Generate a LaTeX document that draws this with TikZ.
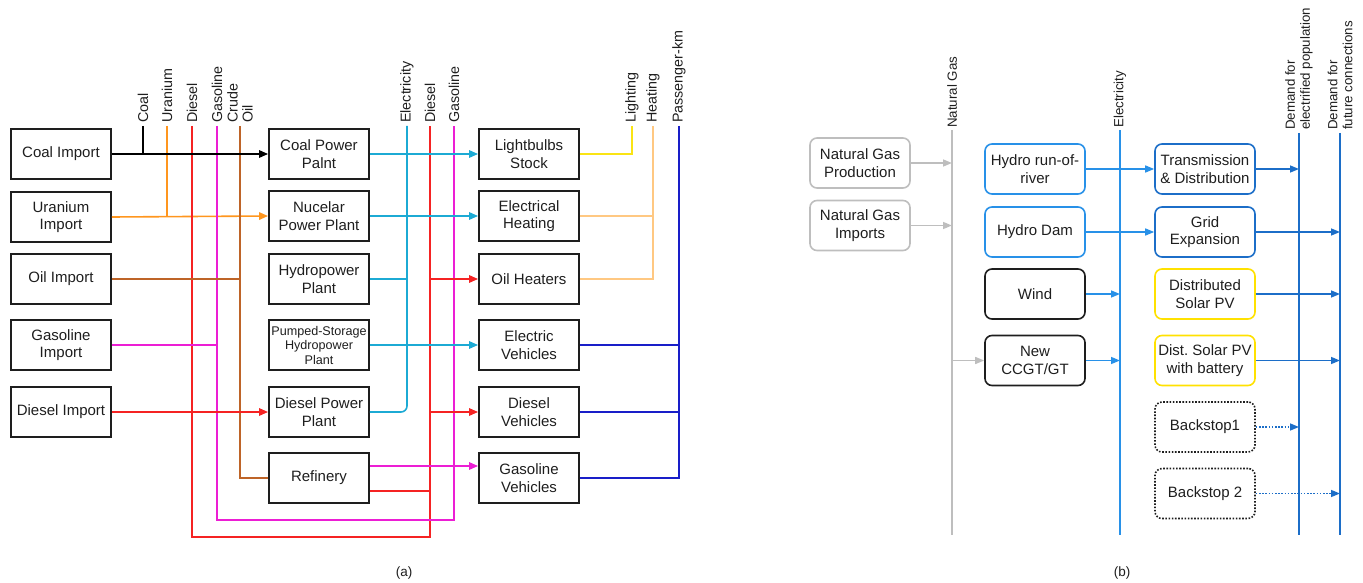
\documentclass[tikz,border=0pt]{standalone}
\usepackage{fontspec}
\setmainfont{Liberation Sans}
\usetikzlibrary{arrows.meta}
\frenchspacing
\definecolor{cyanE}{RGB}{28,170,212}
\definecolor{redD}{RGB}{245,35,35}
\definecolor{magG}{RGB}{236,30,212}
\definecolor{brownO}{RGB}{190,100,40}
\definecolor{orangeU}{RGB}{255,150,30}
\definecolor{yellowL}{RGB}{250,228,20}
\definecolor{orangeH}{RGB}{255,200,130}
\definecolor{blueP}{RGB}{25,30,200}
\definecolor{grayN}{RGB}{190,190,190}
\definecolor{blueE}{RGB}{40,145,232}
\definecolor{blueD}{RGB}{28,110,200}
\definecolor{yellowS}{RGB}{255,225,0}
\definecolor{txt}{RGB}{30,30,30}
\tikzset{
  lbox/.style={draw=txt, line width=1.9pt, minimum width=100pt, minimum height=50pt, inner sep=0pt, align=center, font=\fontsize{15}{17.5}\selectfont, text=txt},
  rbox/.style={draw=txt, line width=1.6pt, rounded corners=7pt, minimum width=100pt, minimum height=50pt, inner sep=0pt, align=center, font=\fontsize{15}{17.5}\selectfont, text=txt},
  vlab/.style={rotate=90, anchor=west, inner sep=0pt, align=left, font=\fontsize{14.3}{15}\selectfont, text=txt},
  vlabr/.style={rotate=90, anchor=west, inner sep=0pt, align=left, font=\fontsize{13.3}{15}\selectfont, text=txt},
  con/.style={line width=1.6pt},
  arr/.style={line width=1.6pt, -{Triangle[length=9pt,width=7.5pt]}},
  dotline/.style={dash pattern=on 1.6pt off 1.6pt},
  captxt/.style={font=\fontsize{13.5}{15}\selectfont, text=txt}
}
\begin{document}
\begin{tikzpicture}[x=1pt,y=-1pt]
\useasboundingbox (0,0) rectangle (1363,583);
% ===== Panel (a) boxes =====
\node[lbox] (ci) at (61,154) {Coal Import};
\node[lbox] (ui) at (61,217) {Uranium\\Import};
\node[lbox] (oi) at (61,279) {Oil Import};
\node[lbox] (gi) at (61,345) {Gasoline\\Import};
\node[lbox] (di) at (61,412) {Diesel Import};
\node[lbox] (cp) at (319,154) {Coal Power\\Palnt};
\node[lbox] (np) at (319,216) {Nucelar\\Power Plant};
\node[lbox] (hp) at (319,279) {Hydropower\\Plant};
\node[lbox, font=\fontsize{12.6}{14.5}\selectfont] (ps) at (319,345) {Pumped-Storage\\Hydropower\\Plant};
\node[lbox] (dp) at (319,412) {Diesel Power\\Plant};
\node[lbox] (rf) at (319,478) {Refinery};
\node[lbox] (lb) at (529,154) {Lightbulbs\\Stock};
\node[lbox] (eh) at (529,216) {Electrical\\Heating};
\node[lbox] (oh) at (529,279) {Oil Heaters};
\node[lbox] (ev) at (529,345) {Electric\\Vehicles};
\node[lbox] (dv) at (529,412) {Diesel\\Vehicles};
\node[lbox] (gv) at (529,478) {Gasoline\\Vehicles};
% bus coordinates
\coordinate (coalT) at (143,126);
\coordinate (uraT) at (167,126);
\coordinate (dslT) at (192,126);
\coordinate (gasT) at (217,126);
\coordinate (oilT) at (240,126);
\coordinate (eleT) at (407,126);
\coordinate (dsl2T) at (430,126);
\coordinate (gas2T) at (454,126);
\coordinate (ligT) at (632,126);
\coordinate (heaT) at (653,126);
\coordinate (pkmT) at (679,126);
\coordinate (rfR) at ([yshift=-13pt]rf.east);
\coordinate (rfM) at ([yshift=12pt]rf.east);
% labels
\node[vlab] (lcoal) at (143,123) {Coal};
\node[vlab] (lura) at (167,123) {Uranium};
\node[vlab] (ldsl) at (192,123) {Diesel};
\node[vlab] (lgas) at (217,123) {Gasoline};
\node[vlab] (loil) at (240,123) {Crude\\Oil};
\node[vlab] (lele) at (407,123) {Electricity};
\node[vlab] (ldsl2) at (430,123) {Diesel};
\node[vlab] (lgas2) at (454,123) {Gasoline};
\node[vlab] (llig) at (632,123) {Lighting};
\node[vlab] (lhea) at (653,123) {Heating};
\node[vlab] (lpkm) at (679,123) {Passenger-km};
% horizontal import lines
\draw[arr, orangeU] (ui.east) -- (np.west);
\draw[con, orangeU] (uraT) -- (uraT |- ui.east);
% vertical buses
\draw[con, redD] (dslT) -- (192,537) -- (430,537) -- (dsl2T);
\draw[con, magG] (gasT) -- (217,520) -- (454,520) -- (gas2T);
\draw[con, brownO] (oilT) |- (rf.west);
\draw[con, brownO] (oi.east) -- (oilT |- oi.east);
\draw[con, magG] (gi.east) -- (gasT |- gi.east);
\draw[arr, redD] (di.east) -- (dp.west);
\draw[arr, black] (ci.east) -- (cp.west);
\draw[con, black] (coalT) -- (coalT |- ci.east);
% electricity
\draw[con, cyanE, rounded corners=6pt] (eleT) |- (dp.east);
\draw[arr, cyanE] (cp.east) -- (lb.west);
\draw[arr, cyanE] (np.east) -- (eh.west);
\draw[con, cyanE] (hp.east) -- (eleT |- hp.east);
\draw[arr, cyanE] (ps.east) -- (ev.west);
% diesel / gasoline outputs
\draw[arr, redD] (dsl2T |- oh.west) -- (oh.west);
\draw[arr, redD] (dsl2T |- dv.west) -- (dv.west);
\draw[con, redD] (rfR) -- (dsl2T |- rfR);
\draw[arr, magG] (rfM) -- (rfM -| gv.west);
% service outputs
\draw[con, yellowL] (lb.east) -| (ligT);
\draw[con, orangeH] (heaT) |- (oh.east);
\draw[con, orangeH] (eh.east) -- (heaT |- eh.east);
\draw[con, blueP] (pkmT) |- (gv.east);
\draw[con, blueP] (ev.east) -- (pkmT |- ev.east);
\draw[con, blueP] (dv.east) -- (pkmT |- dv.east);
\node[captxt] (capa) at (404,573) {(a)};
% ===== Panel (b) =====
\node[rbox, draw=grayN] (ngp) at (860,163) {Natural Gas\\Production};
\node[rbox, draw=grayN] (ngi) at (860,225.5) {Natural Gas\\Imports};
\node[rbox, draw=blueE] (hr) at (1035,169) {Hydro run-of-\\river};
\node[rbox, draw=blueE] (hd) at (1035,232) {Hydro Dam};
\node[rbox] (wi) at (1035,294) {Wind};
\node[rbox] (cc) at (1035,360.5) {New\\CCGT/GT};
\node[rbox, draw=blueD] (td) at (1205,169) {Transmission\\\& Distribution};
\node[rbox, draw=blueD] (ge) at (1205,232) {Grid\\Expansion};
\node[rbox, draw=yellowS] (ds) at (1205,294) {Distributed\\Solar PV};
\node[rbox, draw=yellowS] (db) at (1205,360.5) {Dist. Solar PV\\with battery};
\node[rbox, dotline] (b1) at (1205,427) {Backstop1};
\node[rbox, dotline] (b2) at (1205,493.5) {Backstop 2};
\coordinate (ngT) at (952,130);
\coordinate (ngB) at (952,535);
\coordinate (elT) at (1120,130);
\coordinate (elB) at (1120,535);
\coordinate (d1T) at (1299,133);
\coordinate (d1B) at (1299,535);
\coordinate (d2T) at (1340,133);
\coordinate (d2B) at (1340,535);
\draw[line width=1.6pt, grayN] (ngT) -- (ngB);
\draw[line width=1.6pt, blueE] (elT) -- (elB);
\draw[line width=1.6pt, blueD] (d1T) -- (d1B);
\draw[line width=1.6pt, blueD] (d2T) -- (d2B);
\node[vlabr] (lng) at (952,128) {Natural Gas};
\node[vlabr] (lel) at (1120,128) {Electricity};
\node[vlabr] (ld1) at (1299,130) {Demand for\\electrified population};
\node[vlabr] (ld2) at (1340,130) {Demand for\\future connections};
\tikzset{barr/.style={line width=1.5pt, -{Triangle[length=9pt,width=7pt]}}}
\draw[barr, grayN] (ngp.east) -- (ngT |- ngp.east);
\draw[barr, grayN] (ngi.east) -- (ngT |- ngi.east);
\draw[barr, grayN] (ngT |- cc.west) -- (cc.west);
\draw[barr, blueE] (hr.east) -- (td.west);
\draw[barr, blueE] (hd.east) -- (ge.west);
\draw[barr, blueE] (wi.east) -- (elT |- wi.east);
\draw[barr, blueE] (cc.east) -- (elT |- cc.east);
\draw[barr, blueD] (td.east) -- (d1T |- td.east);
\draw[barr, blueD] (ge.east) -- (d2T |- ge.east);
\draw[barr, blueD] (ds.east) -- (d2T |- ds.east);
\draw[barr, blueD] (db.east) -- (d2T |- db.east);
\draw[barr, blueD, dotline] (b1.east) -- (d1T |- b1.east);
\draw[barr, blueD, dotline] (b2.east) -- (d2T |- b2.east);
\node[captxt] (capb) at (1122,573) {(b)};
\end{tikzpicture}
\end{document}
